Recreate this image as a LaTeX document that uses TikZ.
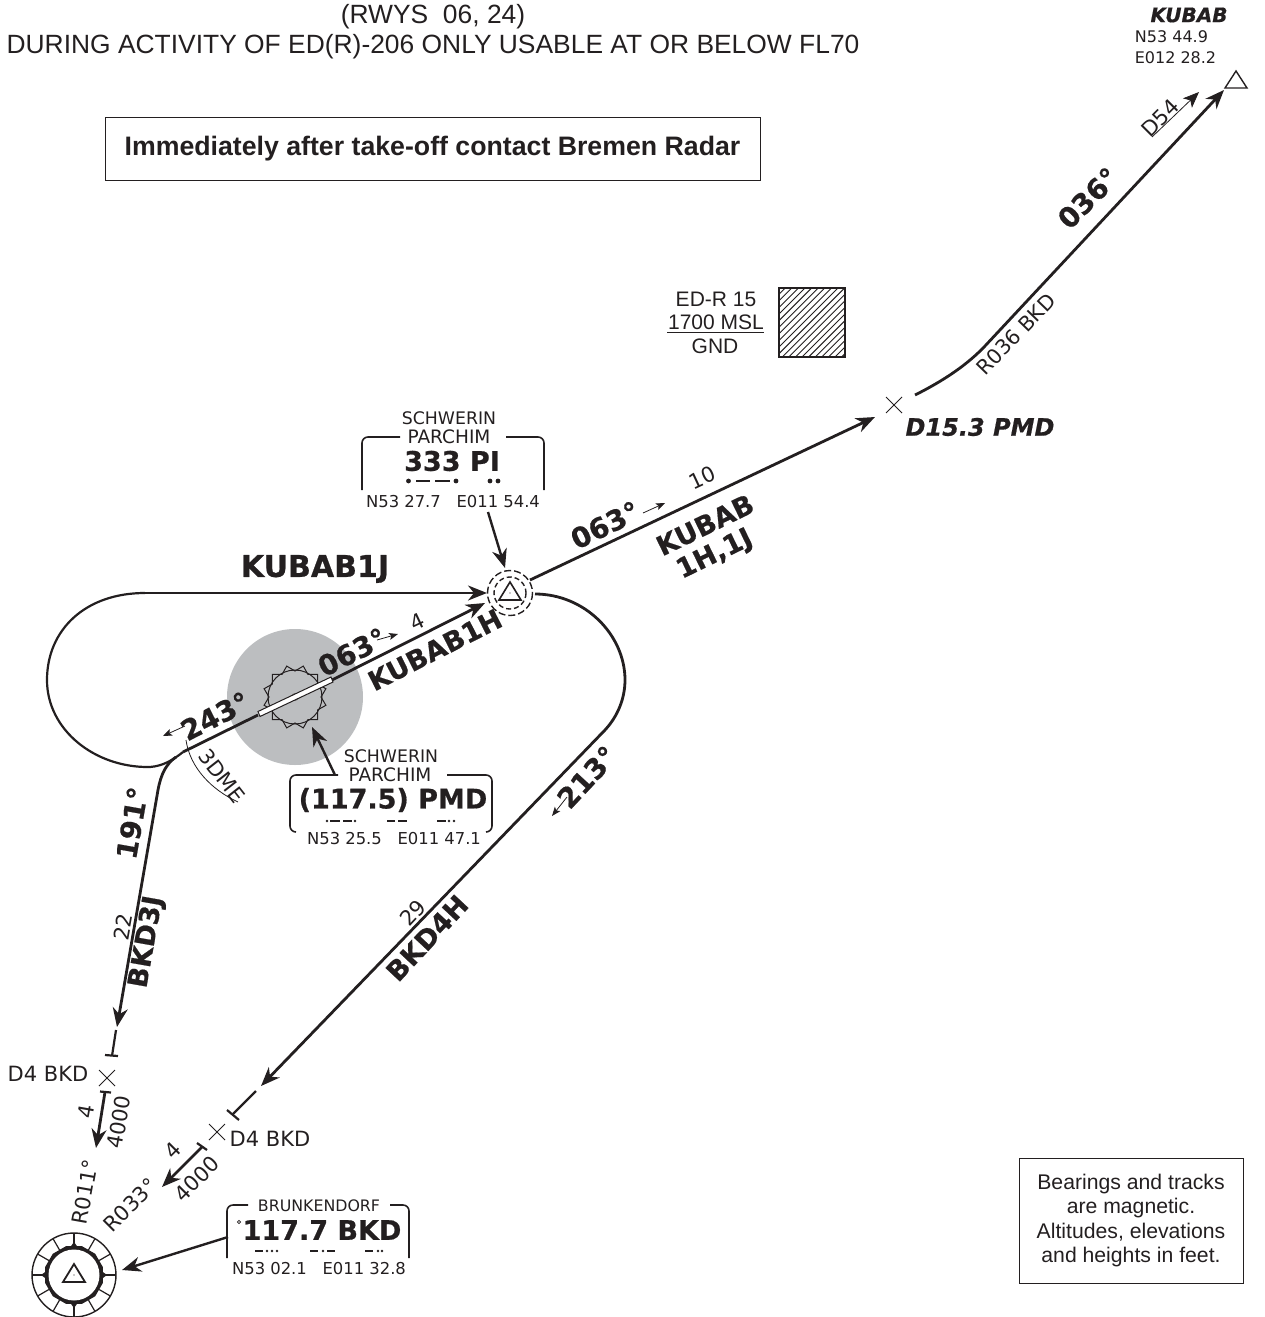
\documentclass[tikz,border=0pt]{standalone}
\usepackage{fontspec}
\setmainfont{DejaVu Sans}[BoldFeatures={FakeBold=0.6},BoldItalicFeatures={FakeBold=0.6}]
\newfontfamily\arfont{Liberation Sans}
\usetikzlibrary{arrows.meta,calc}
\definecolor{ink}{HTML}{231F20}
\definecolor{zone}{HTML}{BCBEC0}
\newcommand{\fs}[1]{\fontsize{#1}{#1}\selectfont}
\tikzset{
  x=1pt,y=-1pt,
  every node/.style={inner sep=0pt,outer sep=0pt,text=ink,align=center},
  track/.style={draw=ink,line width=2.8pt},
  bigtip/.style={-{Stealth[length=19pt,width=15pt,inset=6pt]}},
  small arrow/.style={draw=ink,line width=.8pt,-{Stealth[length=9pt,width=7pt,inset=2pt]}},
  pointer/.style={draw=ink,line width=2.4pt,-{Stealth[length=19pt,width=15pt,inset=6pt]}},
  fixcross/.style={draw=ink,line width=.8pt},
  box/.style={draw=ink,line width=1.6pt,rounded corners=6pt},
  labelbold/.style={font=\fs{27}\bfseries},
  labeldeg/.style={font=\fs{28}\bfseries},
  labelsmall/.style={font=\fs{16.4}},
  labelname/.style={font=\fs{17.3}},
  labelmid/.style={font=\fs{21}},
  ari/.style={font=\arfont\fs{21}},
  morse/.style={draw=ink,line width=2pt},
}
\begin{document}
\begin{tikzpicture}
\useasboundingbox (0,0) rectangle (1264,1317);
% header
\node[font=\arfont\fs{26.4}] (h1) at (433,17) {(RWYS\ \ 06, 24)};
\node[font=\arfont\fs{26.4}] (h2) at (433,47) {DURING ACTIVITY OF ED(R)-206 ONLY USABLE AT OR BELOW FL70};
\node[draw=ink,line width=.8pt,minimum width=655pt,minimum height=63pt,font=\arfont\bfseries\fs{26.7}] (contact) at (432.5,148.5) {Immediately after take-off contact Bremen Radar};
% restricted area
\begin{scope}
\clip (779,288) rectangle (845,357);
\foreach \k in {-70,-63.4,...,80}{\draw[ink,line width=.9pt] (760+\k,370) -- (760+\k+100,270);}
\end{scope}
\draw[ink,line width=2.4pt] (779,288) rectangle (845,357);
\node[ari] (edr1) at (716,299) {ED-R 15};
\node[ari] (edr2) at (716,322) {1700 MSL};
\draw[ink,line width=.9pt] (667,332) -- (764,332);
\node[ari] (edr3) at (715,346) {GND};
% fixes
\coordinate (ndb) at (510,593);
\coordinate (pmd) at (295,697);
\coordinate (vor) at (74,1275);
% PMD area
\fill[zone] (pmd) circle (68);
\draw[ink,line width=1pt] (pmd) circle (27);
\draw[ink,line width=1pt] ($(pmd)+(0:26)$)
  \foreach \a/\r in {15/32,30/26,45/32,60/26,75/32,90/26,105/32,120/26,135/32,150/26,165/32,180/26,195/32,210/26,225/32,240/26,255/32,270/26,285/32,300/26,315/32,330/26,345/32}{ -- ($(pmd)+(\a:\r)$)} -- cycle;
\fill[ink!60] (pmd) circle (4);
% runway track
\coordinate (rw1) at (258,715);
\coordinate (rw2) at (332,680);
\coordinate (join) at (183,752);
\draw[track] (join) -- (rw1);
\draw[track,bigtip] (rw2) -- (485,603);
\draw[ink,line width=1pt,fill=white] (258,711.5) -- (331,677) -- (333,682) -- (260,716.5) -- cycle;
% KUBAB1J loop
\coordinate (j0) at (145,593);
\coordinate (j1) at (487,593);
\draw[draw=ink,line width=2.2pt,bigtip] (j0) -- (j1);
\draw[draw=ink,line width=2.2pt] (j0) .. controls (85,593) and (47,630) .. (47,680)
   .. controls (47,730) and (95,768) .. (150,767) .. controls (163,766) and (173,760) .. (join);
% 191 leg
\coordinate (l1) at (158,790);
\coordinate (l2) at (117,1027);
\draw[track,bigtip] (176,757) .. controls (166,764) and (161,774) .. (l1) -- (l2);
\coordinate (l3) at (116,1030);
\coordinate (l4) at (112,1056);
\draw[ink,line width=2.2pt] (l3) -- (l4);
\draw[ink,line width=2.2pt] (105,1055) -- (118,1056);
% 213 leg
\coordinate (r0) at (535,594);
\coordinate (r1) at (605,730);
\coordinate (r2) at (261,1086);
\draw[track,bigtip] (r0) .. controls (585,594) and (625,635) .. (625,680) .. controls (625,698) and (618,716) .. (r1) -- (r2);
\coordinate (r3) at (256,1091);
\coordinate (r4) at (233,1114);
\draw[ink,line width=2.2pt] (r3) -- (r4);
\draw[ink,line width=2.2pt] (227,1110) -- (239,1120);
% KUBAB
\coordinate (k0) at (530,580);
\coordinate (k1) at (875,417);
\draw[track,bigtip] (k0) -- (k1);
\coordinate (k2) at (915,395);
\coordinate (k3) at (985,346);
\coordinate (k4) at (1224,90);
\draw[track,bigtip] (k2) .. controls (945,380) and (968,364) .. (k3) -- (k4);
% final arrows
\draw[track,bigtip] (105,1092) -- (96,1148);
\draw[ink,line width=2.2pt] (100,1091.5) -- (111,1092.5);
\draw[track,bigtip] (202,1147) -- (162,1187);
\draw[ink,line width=2.2pt] (197,1143) -- (207,1150);
% crosses
\foreach \c/\n in {894/405,107/1078,217/1132}{
  \draw[fixcross] (\c-8,\n-8) -- (\c+8,\n+8) (\c-8,\n+8) -- (\c+8,\n-8);}
% NDB symbol
\draw[ink,line width=1.4pt,dash pattern=on 7pt off 3pt] (ndb) circle (22.5);
\draw[ink,line width=1.4pt,dash pattern=on 5pt off 3pt] (ndb) circle (16);
\draw[ink,line width=1.6pt] (510,582) -- (521,600) -- (499,600) -- cycle;
\fill[ink] (510,593) circle (.6);
% VOR symbol
\draw[ink,line width=1.4pt] (vor) circle (42);
\foreach \a in {0,90,180,270}{\draw[ink,line width=1.2pt] ($(vor)+(\a:28)$) -- ($(vor)+(\a:42)$);}
\foreach \a in {30,60,120,150,210,240,300,330}{\draw[ink,line width=1.2pt] ($(vor)+(\a:29)$) -- ($(vor)+(\a:42)$);}
\fill[ink] ($(vor)+(0:33)$)
  \foreach \a/\r in {6/29,15/30,45/30,75/30,84/29,90/33,96/29,105/30,135/30,165/30,174/29,180/33,186/29,195/30,225/30,255/30,264/29,270/33,276/29,285/30,315/30,345/30,354/29}{ -- ($(vor)+(\a:\r)$)} -- cycle;
\fill[white] (vor) circle (25.5);
\draw[ink,line width=1.8pt] (74,1264) -- (85,1282) -- (63,1282) -- cycle;
\fill[ink] (74,1275) circle (.6);
% KUBAB fix
\draw[ink,line width=1.4pt] (1236,71) -- (1247,88) -- (1225,88) -- cycle;
\node[font=\fs{20}\bfseries\itshape] (kname) at (1189,15) {KUBAB};
\node[font=\fs{16}] (klat) at (1171.5,37) {N53 44.9};
\node[font=\fs{16}] (klon) at (1175.5,58) {E012 28.2};
% NDB box
\node[labelname] (s1) at (449,418) {SCHWERIN};
\node[font=\fs{18.5}] (s2) at (449,437) {PARCHIM};
\draw[box] (400,437) -- (362,437) -- (362,490);
\draw[box] (506,437) -- (544,437) -- (544,490);
\node[font=\fs{27}\bfseries] (ndbid) at (452,461) {333 PI};
\foreach \x in {408.5,456,490,498}{\fill[ink] (\x,481) circle (2.4);}
\draw[morse,line width=2.6pt] (416,481) -- (430,481) (435,481) -- (450,481);
\node[labelsmall] (ndbpos) at (453,502) {N53 27.7\ \ \ E011 54.4};
\coordinate (pa) at (488,512);
\draw[pointer] (pa) -- (505,568);
% PMD box
\node[labelname] (p1) at (391,756) {SCHWERIN};
\node[font=\fs{18.5}] (p2) at (390,775) {PARCHIM};
\draw[box] (338,775) -- (290,775) -- (290,832) -- (296,832);
\draw[box] (447,775) -- (492,775) -- (492,832) -- (486,832);
\node[font=\fs{27}\bfseries] (pmdid) at (393,800) {(117.5) PMD};
\foreach \x in {327,355,449,454}{\fill[ink] (\x,821) circle (1.4);}
\draw[morse] (330,821) -- (340,821) (343,821) -- (352,821) (387,821) -- (395,821) (398,821) -- (407,821) (437,821) -- (446,821);
\node[labelsmall] (pmdpos) at (394,839) {N53 25.5\ \ \ E011 47.1};
\coordinate (pb) at (335,775);
\draw[pointer] (pb) -- (312,727);
% BKD box
\node[font=\fs{15.8}] (b1) at (319,1206) {BRUNKENDORF};
\draw[box] (248,1205) -- (227,1205) -- (227,1258);
\draw[box] (390,1205) -- (409,1205) -- (409,1258);
\node[font=\fs{27}\bfseries] (bkdid) at (322,1230) {117.7 BKD};
\draw[ink,line width=.8pt] (239,1222) circle (1.6);
\foreach \x in {267,272,277,323,378,382}{\fill[ink] (\x,1251) circle (1.4);}
\draw[morse] (255,1251) -- (263,1251) (310,1251) -- (318,1251) (327,1251) -- (335,1251) (365,1251) -- (373,1251);
\node[labelsmall] (bkdpos) at (319,1269) {N53 02.1\ \ \ E011 32.8};
\coordinate (pc) at (228,1237);
\draw[pointer] (pc) -- (122,1270);
% 3 DME arc
\coordinate (d0) at (186,740);
\coordinate (d1) at (238,802);
\draw[ink,line width=.8pt] (d0) .. controls (190,768) and (212,790) .. (d1);
\node[font=\fs{21},rotate=-52] (dme) at (222,776) {3DME};
% track labels
\node[font=\fs{30}\bfseries] (t1j) at (315,569) {KUBAB1J};
\node[labeldeg,rotate=26] (t063a) at (605,525) {063°};
\node[labelbold,rotate=26] (tk1) at (705,525) {KUBAB};
\node[labelbold,rotate=26] (tk2) at (715,555) {1H,1J};
\node[labelmid,rotate=25] (t10) at (702,478) {10};
\coordinate (a1) at (643,513); \coordinate (a2) at (665,503);
\draw[small arrow] (a1) -- (a2);
\node[labeldeg,rotate=45] (t036) at (1088,198) {036°};
\node[labelmid,rotate=45] (td54) at (1160,118) {D54};
\coordinate (a3) at (1152,137); \coordinate (a4) at (1199,92);
\draw[draw=ink,line width=.8pt,-{Stealth[length=16pt,width=13pt,inset=4pt]}] (a3) -- (a4);
\node[font=\fs{20.5},rotate=46] (tr036) at (1016,334) {R036 BKD};
\node[font=\fs{24}\bfseries\itshape] (td15) at (980,427) {D15.3 PMD};
\node[labelbold,rotate=27] (t1h) at (435,650) {KUBAB1H};
\node[labeldeg,rotate=27] (t063b) at (352,652) {063°};
\coordinate (a5) at (377,640); \coordinate (a6) at (398,634);
\draw[small arrow] (a5) -- (a6);
\node[labelmid,rotate=25] (t4a) at (417,622) {4};
\node[labeldeg,rotate=27] (t243) at (215,716) {243°};
\coordinate (a7) at (185,726); \coordinate (a8) at (163,736);
\draw[small arrow] (a7) -- (a8);
\node[labeldeg,rotate=47] (t213) at (587,777) {213°};
\coordinate (a9) at (567,797); \coordinate (a10) at (552,816);
\draw[small arrow] (a9) -- (a10);
\node[labelmid,rotate=47] (t29) at (413,913) {29};
\node[labelbold,rotate=47] (tb4h) at (427,938) {BKD4H};
\node[labeldeg,rotate=80] (t191) at (132,823) {191°};
\node[labelmid,rotate=80] (t22) at (123,927) {22};
\node[labelbold,rotate=80] (tb3j) at (147,942) {BKD3J};
\node[labelmid] (d4l) at (48,1074) {D4 BKD};
\node[labelmid] (d4r) at (270,1139) {D4 BKD};
\node[labelmid,rotate=80] (t4b) at (86,1112) {4};
\node[labelmid,rotate=80] (t4000a) at (119,1122) {4000};
\node[labelmid,rotate=45] (t4c) at (173,1150) {4};
\node[labelmid,rotate=45] (t4000b) at (197,1179) {4000};
\node[labelmid,rotate=80] (tr011) at (85,1192) {R011°};
\node[labelmid,rotate=45] (tr033) at (130,1205) {R033°};
% note
\node[draw=ink,line width=.8pt,minimum width=224pt,minimum height=125pt,font=\arfont\fs{21.2},align=center] (note) at (1131,1220.5) {Bearings and tracks\\[3pt]are magnetic.\\[3pt]Altitudes, elevations\\[3pt]and heights in feet.};
\end{tikzpicture}
\end{document}
